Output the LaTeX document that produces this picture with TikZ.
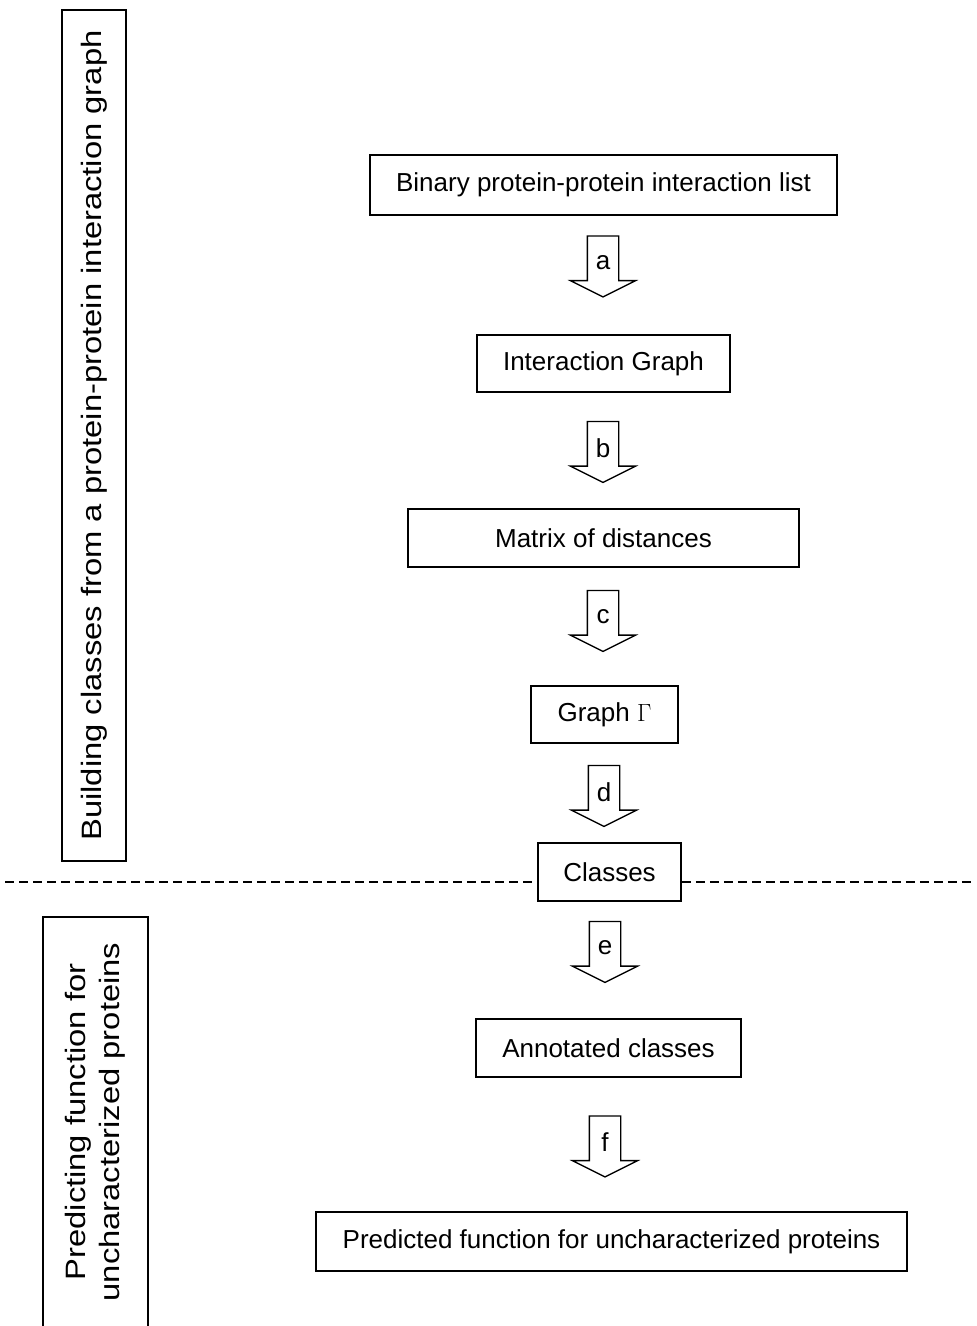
\documentclass[tikz,border=0pt]{standalone}
\usepackage{fontspec}
\setmainfont{Liberation Sans}
\usepackage{graphicx}
\usetikzlibrary{shapes.arrows}

\newcommand{\sidetext}[1]{\scalebox{1.17}[1]{#1}}
\newcommand{\arrowlabel}[1]{\makebox[10pt]{#1}}

\begin{document}
\begin{tikzpicture}[x=1pt,y=-1pt,
  stepbox/.style={draw,line width=1.5pt,inner sep=0pt,font=\fontsize{26}{31}\selectfont},
  sidebox/.style={draw,line width=1.5pt,inner sep=0pt,rotate=90,align=center,font=\fontsize{28}{34}\selectfont},
  blockarrow/.style={single arrow,draw,line width=1.3pt,shape border rotate=270,
    single arrow head extend=17pt,single arrow tip angle=127,minimum height=61pt,
    inner xsep=10pt,inner ysep=2pt,font=\fontsize{26}{31}\selectfont},
  sepline/.style={line width=2pt,dash pattern=on 9pt off 5pt}]
\useasboundingbox (0,0) rectangle (977,1326);

%side labels
\node[sidebox,minimum width=851pt,minimum height=64pt] (build) at (94,435.5)
  {\sidetext{Building classes from a protein-protein interaction graph}};
\node[sidebox,minimum width=410pt,minimum height=105pt] (predict) at (95.5,1122)
  {\sidetext{Predicting function for}\\\sidetext{uncharacterized proteins}};

%steps
\node[stepbox,minimum width=467pt,minimum height=60pt] (list) at (603.5,185) {Binary protein-protein interaction list};
\node[stepbox,minimum width=253pt,minimum height=57pt] (igraph) at (603.5,363.5) {Interaction Graph};
\node[stepbox,minimum width=391pt,minimum height=58pt] (matrix) at (603.5,538) {Matrix of distances};
\node[stepbox,minimum width=147pt,minimum height=57pt] (gamma) at (604.5,714.5) {Graph $\Gamma$};
\node[stepbox,minimum width=143pt,minimum height=58pt] (classes) at (609.5,872) {Classes};
\node[stepbox,minimum width=265pt,minimum height=58pt] (annot) at (608.5,1048) {Annotated classes};
\node[stepbox,minimum width=591pt,minimum height=59pt] (pred) at (611.5,1241.5) {Predicted function for uncharacterized proteins};

%arrows
\node[blockarrow] (arrA) at (603,262.5) {\arrowlabel{a}};
\node[blockarrow] (arrB) at (603,448) {\arrowlabel{b}};
\node[blockarrow] (arrC) at (603,617) {\arrowlabel{c}};
\node[blockarrow] (arrD) at (604,792) {\arrowlabel{d}};
\node[blockarrow] (arrE) at (605,948) {\arrowlabel{e}};
\node[blockarrow] (arrF) at (605,1142.5) {\arrowlabel{f}};

%separator
\coordinate (sepL) at (5,882);
\coordinate (sepR) at (975,882);
\draw[sepline] (sepL) -- (sepL -| classes.west);
\draw[sepline] (classes.east |- sepR) -- (sepR);
\end{tikzpicture}
\end{document}
